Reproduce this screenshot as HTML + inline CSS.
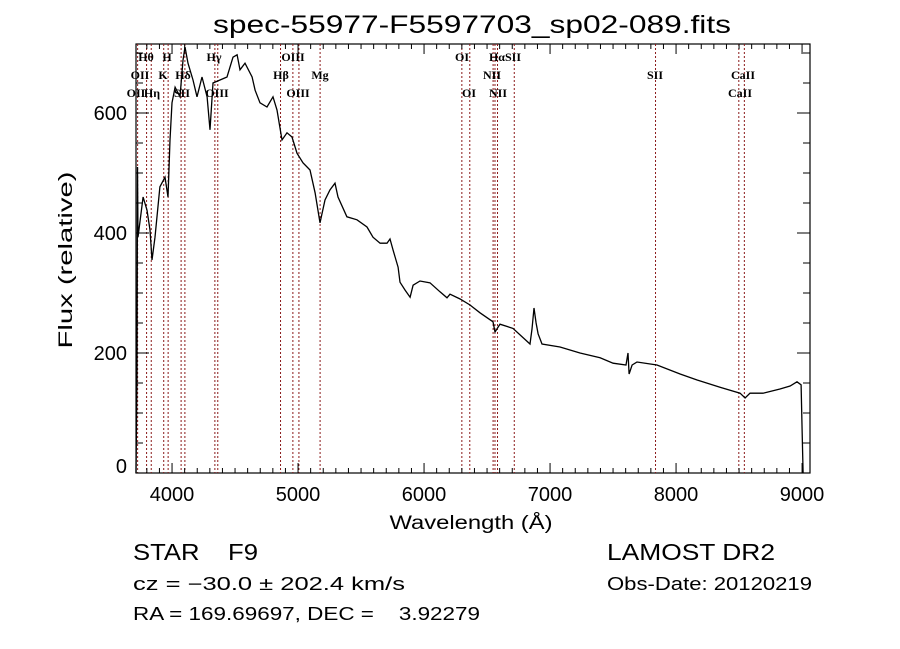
<!DOCTYPE html>
<html><head><meta charset="utf-8"><style>
html,body{margin:0;padding:0;background:#fff;}
svg{display:block;}
text{font-family:"Liberation Sans",sans-serif;fill:#000;white-space:pre;}
.lab{font-family:"Liberation Serif",serif;font-size:12px;font-weight:bold;}
</style></head><body>
<svg id="chart" width="900" height="649" viewBox="0 0 900 649">
<text x="472" y="33" font-size="25" text-anchor="middle" textLength="518" lengthAdjust="spacingAndGlyphs">spec-55977-F5597703_sp02-089.fits</text>
<rect x="136" y="44" width="674" height="429" fill="none" stroke="#000" stroke-width="1.2"/>
<g id="lines"></g>
<g id="ticks"></g>
<g id="labels"></g>
<path id="spec" fill="none" stroke="#000" stroke-width="1.3"/>
<text transform="translate(72,260) rotate(-90)" font-size="19" text-anchor="middle" textLength="177" lengthAdjust="spacingAndGlyphs">Flux (relative)</text>
<text x="471" y="529" font-size="19" text-anchor="middle" textLength="163" lengthAdjust="spacingAndGlyphs">Wavelength (Å)</text>
<text x="133" y="560" font-size="23" textLength="125" lengthAdjust="spacingAndGlyphs">STAR    F9</text>
<text x="607" y="560" font-size="23" textLength="168" lengthAdjust="spacingAndGlyphs">LAMOST DR2</text>
<text x="133" y="590" font-size="18" textLength="272" lengthAdjust="spacingAndGlyphs">cz = −30.0 ± 202.4 km/s</text>
<text x="607" y="590" font-size="18" textLength="205" lengthAdjust="spacingAndGlyphs">Obs-Date: 20120219</text>
<text x="133" y="620" font-size="18" textLength="347" lengthAdjust="spacingAndGlyphs">RA = 169.69697, DEC =    3.92279</text>
</svg>
<script>
const wavelengths=[3714,3722,3726,3730,3770,3801,3825,3841,3865,3904,3944,3968,3984,4000,4024,4063,4087,4103,4127,4166,4198,4238,4278,4301,4325,4381,4436,4484,4516,4539,4579,4635,4659,4698,4754,4801,4833,4873,4912,4952,4992,5039,5095,5135,5174,5214,5254,5293,5317,5388,5468,5547,5595,5651,5706,5730,5754,5770,5794,5809,5849,5889,5913,5968,6047,6127,6182,6206,6286,6365,6444,6547,6563,6603,6706,6841,6857,6873,6889,6905,6936,7079,7238,7397,7500,7603,7619,7627,7651,7690,7849,8032,8167,8349,8508,8548,8587,8690,8825,8905,8960,8992,9000,9008];
const fluxes=[0,160,510,393,460,438,405,355,393,477,493,460,555,617,643,627,688,710,683,655,627,660,627,572,650,655,660,693,697,672,683,660,638,617,610,627,605,555,567,560,533,517,505,467,417,455,472,483,460,427,422,410,393,383,383,390,372,360,343,318,305,293,313,320,317,302,292,298,290,280,267,252,235,248,241,215,240,275,250,232,215,210,200,192,183,180,200,165,180,185,180,165,155,143,133,125,133,133,140,145,152,147,72,0];
const lineWaves=[3727,3798,3835,3934,3969,4072,4102,4340,4363,4861,4959,5007,5175,6300,6363,6548,6563,6583,6716,7837,8498,8542];
const lineLabels=[["Hθ",146,57],["H",167,57],["Hγ",214,57],["OIII",293,57],["OI",462,57],["HαSII",505,57],["OII",140,75],["K",163,75],["Hδ",183,75],["Hβ",281,75],["Mg",320,75],["NII",492,75],["SII",655,75],["CaII",743,75],["OII",136,93],["Hη",152,93],["SII",182,93],["OIII",217,93],["OIII",298,93],["OI",469,93],["NII",498,93],["CaII",740,93]];
const xTicks=[4000,5000,6000,7000,8000,9000];
const yTicks=[0,200,400,600];
const X0=136,X1=810,Y0=473,Y1=44,W0=3714,W1=9063,F0=0,F1=715;
const sx=w=>X0+(w-W0)/(W1-W0)*(X1-X0);
const sy=f=>Y0-(f-F0)/(F1-F0)*(Y0-Y1);
const NS="http://www.w3.org/2000/svg";
function mk(tag,attrs,parent){const e=document.createElementNS(NS,tag);for(const k in attrs)e.setAttribute(k,attrs[k]);parent.appendChild(e);return e;}
let d="";
wavelengths.forEach((w,i)=>{const x=sx(w).toFixed(1),y=sy(Math.max(F0,Math.min(F1,fluxes[i]))).toFixed(1);d+=(i?"L":"M")+x+","+y;});
document.getElementById("spec").setAttribute("d",d);
const lg=document.getElementById("lines");
lineWaves.forEach(w=>{const l=mk("line",{x1:sx(w),x2:sx(w),y1:Y1,y2:Y0,stroke:"#8b1a1a","stroke-width":1,"stroke-dasharray":"2,2"},lg);

});
const lb=document.getElementById("labels");
lineLabels.forEach(a=>{const t=mk("text",{x:a[1],y:a[2]+4,"text-anchor":"middle",class:"lab"},lb);t.textContent=a[0];

});
const tg=document.getElementById("ticks");
for(let w=3800;w<=W1;w+=100){const x=sx(w),maj=w%1000===0,len=maj?10:5;
mk("line",{x1:x,x2:x,y1:Y0,y2:Y0-len,stroke:"#000"},tg);mk("line",{x1:x,x2:x,y1:Y1,y2:Y1+len,stroke:"#000"},tg);}
xTicks.forEach(w=>{const t=mk("text",{x:sx(w),y:501,"font-size":20,"text-anchor":"middle"},tg);t.textContent=w;

});
for(let f=0;f<=F1;f+=50){const y=sy(f),maj=f%200===0,len=maj?13:7;
mk("line",{x1:X0,x2:X0+len,y1:y,y2:y,stroke:"#000"},tg);mk("line",{x1:X1,x2:X1-len,y1:y,y2:y,stroke:"#000"},tg);}
yTicks.forEach(f=>{const t=mk("text",{x:127,y:Math.min(sy(f)+7,473),"font-size":20,"text-anchor":"end"},tg);t.textContent=f;

});
</script>
</body></html>
